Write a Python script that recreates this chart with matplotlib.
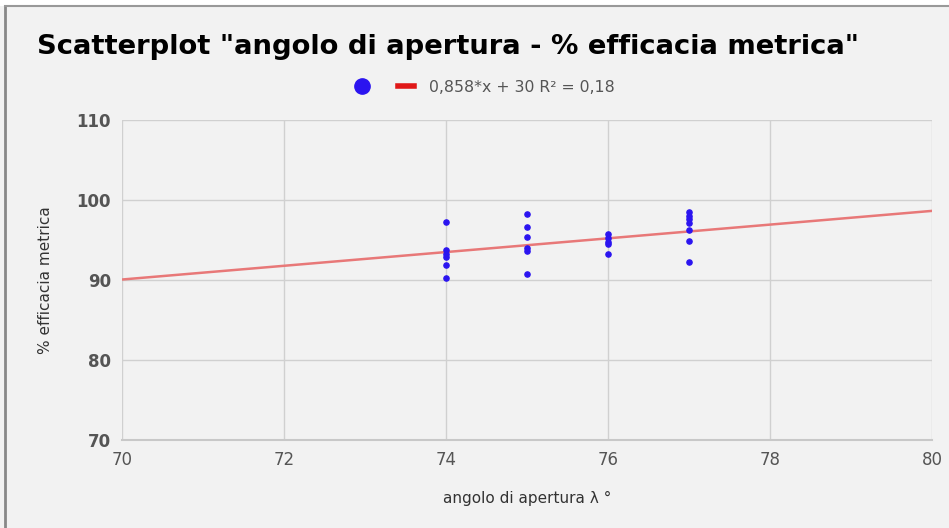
import matplotlib.pyplot as plt
import numpy as np
from matplotlib.lines import Line2D
from matplotlib.patches import Rectangle

# data
angolo = [74, 74, 74, 74, 74, 74,
          75, 75, 75, 75, 75, 75,
          76, 76, 76, 76, 76,
          77, 77, 77, 77, 77, 77, 77]
efficacia = [97.3, 93.7, 93.3, 92.9, 91.9, 90.3,
             98.2, 96.6, 95.4, 94.0, 93.6, 90.8,
             95.8, 95.2, 94.8, 94.5, 93.3,
             98.5, 98.0, 97.6, 97.1, 96.2, 94.9, 92.3]
slope = 0.858
intercept = 30
x_ticks = [70, 72, 74, 76, 78, 80]
y_ticks = [70, 80, 90, 100, 110]
trend_label = "0,858*x + 30 R² = 0,18"

bg = '#f2f2f2'
fig = plt.figure(figsize=(9.49, 5.28), dpi=100, facecolor=bg)

# spreadsheet strip on top and the screenshot border
fig.patches.append(Rectangle((0, 1 - 6 / 528), 1, 6 / 528, transform=fig.transFigure,
                             facecolor='white', edgecolor='none', zorder=0))
fig.add_artist(Line2D([5 / 949, 5 / 949], [0, 1 - 6 / 528], transform=fig.transFigure,
                      color='#888888', lw=2))
fig.add_artist(Line2D([5 / 949, 1], [1 - 6 / 528, 1 - 6 / 528], transform=fig.transFigure,
                      color='#999999', lw=1.5))

ax = fig.add_axes([122 / 949, 1 - 440 / 528, 810 / 949, 320 / 528])
ax.set_facecolor(bg)

xs = np.array([70, 80])
ax.plot(xs, slope * xs + intercept, color='#e87878', lw=1.8, zorder=2)
ax.scatter(angolo, efficacia, s=14, color='#2b14f0', zorder=3)

ax.set_xlim(70, 80)
ax.set_ylim(70, 110)
ax.set_xticks(x_ticks)
ax.set_yticks(y_ticks)
ax.grid(True, color='#d0d0d0', lw=1)
ax.set_axisbelow(True)
for s in ['top', 'right', 'left']:
    ax.spines[s].set_visible(False)
ax.spines['bottom'].set_color('#c8c8c8')
ax.spines['bottom'].set_linewidth(1.5)
ax.tick_params(length=0, pad=8)
for lab in ax.get_xticklabels():
    lab.set_fontsize(12)
    lab.set_color('#555555')
for lab in ax.get_yticklabels():
    lab.set_fontsize(12)
    lab.set_color('#555555')
    lab.set_fontweight('bold')

ax.set_xlabel('angolo di apertura λ °', fontsize=11, color='#333333', labelpad=16)
ax.set_ylabel('% efficacia metrica', fontsize=11, color='#333333', labelpad=17)

fig.text(37 / 949, 1 - 54 / 528, 'Scatterplot "angolo di apertura - % efficacia metrica"',
         fontsize=19.7, fontweight='bold', color='black')

handles = [Line2D([], [], marker='o', ls='none', color='#2b14f0', markersize=11),
           Line2D([], [], color='#e01818', lw=4)]
fig.legend(handles, ['', trend_label], loc='center', bbox_to_anchor=(0.5 + 10 / 949, 1 - 87 / 528),
           ncol=2, frameon=False, fontsize=11.3, labelcolor='#555555',
           handlelength=1.0, columnspacing=0.8, handletextpad=1.0)

fig.savefig('out.png', dpi=100, facecolor=bg)
